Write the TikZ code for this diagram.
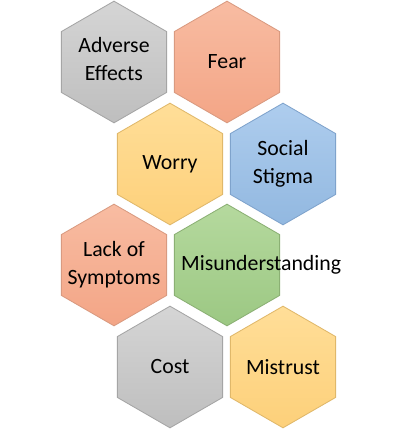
\documentclass[tikz,border=0pt]{standalone}
\usepackage{fontspec}
\setmainfont{Carlito}
\usetikzlibrary{shapes.geometric}

\definecolor{greyTop}{HTML}{D5D5D5}
\definecolor{greyBot}{HTML}{BEBEBE}
\definecolor{greyLine}{HTML}{A5A5A5}
\definecolor{salmonTop}{HTML}{F8BCA2}
\definecolor{salmonBot}{HTML}{F3A586}
\definecolor{salmonLine}{HTML}{D99A80}
\definecolor{yellowTop}{HTML}{FFDE98}
\definecolor{yellowBot}{HTML}{FDD07A}
\definecolor{yellowLine}{HTML}{E0B86A}
\definecolor{blueTop}{HTML}{AECDEE}
\definecolor{blueBot}{HTML}{92B8E0}
\definecolor{blueLine}{HTML}{7FA3CC}
\definecolor{greenTop}{HTML}{B5D99E}
\definecolor{greenBot}{HTML}{9CC883}
\definecolor{greenLine}{HTML}{8BB074}

\begin{document}
\begin{tikzpicture}[
  x=0.025cm, y=-0.025cm,
  every node/.style={font=\fontsize{15.5}{20}\selectfont, text=black},
  hexa/.style={regular polygon, regular polygon sides=6, shape border rotate=30,
    minimum size=3.04cm, inner sep=0pt, draw, line width=0.6pt},
  grey/.style={hexa, top color=greyTop, bottom color=greyBot, draw=greyLine},
  salmon/.style={hexa, top color=salmonTop, bottom color=salmonBot, draw=salmonLine},
  yellow/.style={hexa, top color=yellowTop, bottom color=yellowBot, draw=yellowLine},
  blue/.style={hexa, top color=blueTop, bottom color=blueBot, draw=blueLine},
  green/.style={hexa, top color=greenTop, bottom color=greenBot, draw=greenLine},
  caption/.style={align=center, inner sep=0pt}
]
  \useasboundingbox[fill=white] (0,0) rectangle (400,436);

  % row 1
  \node[grey]   (adverse) at (114,62)  {};
  \node[salmon] (fear)    at (227,62)  {};
  % row 2
  \node[yellow] (worry)   at (170,164) {};
  \node[blue]   (stigma)  at (283,164) {};
  % row 3
  \node[salmon] (lack)    at (114,265) {};
  \node[green]  (misund)  at (227,265) {};
  % row 4
  \node[grey]   (cost)    at (170,367) {};
  \node[yellow] (mistrust) at (283,367) {};

  \node[caption] (adverse-t)  at ([yshift=2pt]adverse.center) {Adverse\\Effects};
  \node[caption] (fear-t)     at (fear.center)     {Fear};
  \node[caption] (worry-t)    at (worry.center)    {Worry};
  \node[caption] (stigma-t)   at (stigma.center)   {Social\\Stigma};
  \node[caption] (lack-t)     at (lack.center)     {Lack of\\Symptoms};
  \node[caption, anchor=west] (misund-t) at ([xshift=5pt]misund.west) {Misunderstanding};
  \node[caption] (cost-t)     at (cost.center)     {Cost};
  \node[caption] (mistrust-t) at (mistrust.center) {Mistrust};
\end{tikzpicture}
\end{document}
